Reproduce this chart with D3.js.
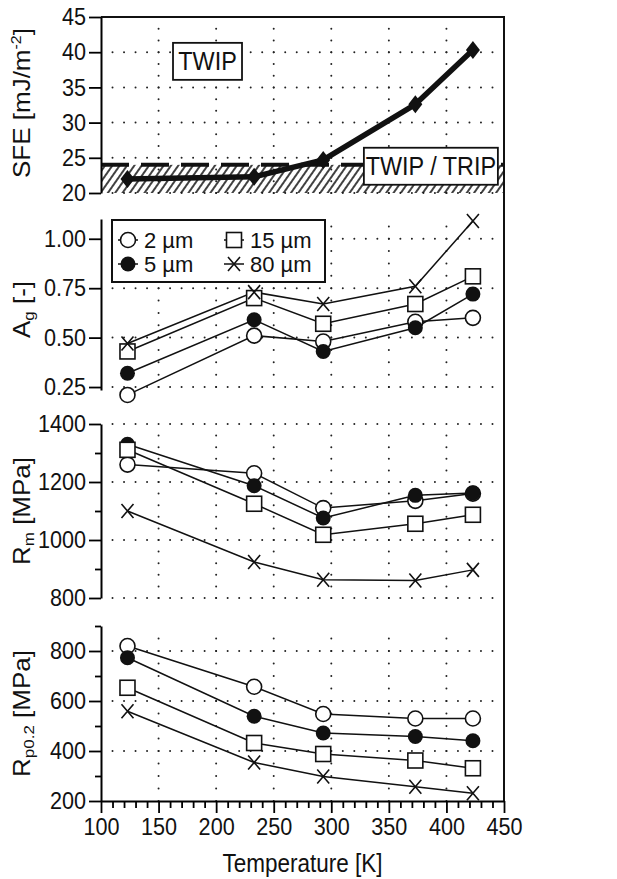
<!DOCTYPE html>
<html>
<head>
<meta charset="utf-8">
<script src="https://cdn.jsdelivr.net/npm/d3@7"></script>
<style>
  body { margin: 0; background: #fff; }
  text { font-family: "Liberation Sans", Arial, Helvetica, sans-serif; fill: #111; }
</style>
</head>
<body>
<svg id="chart" width="617" height="879"></svg>
<script>
// temperatures [K] and measured values per grain size
var temps = [123, 233, 293, 373, 423];
var sfe = [22.0, 22.3, 24.7, 32.6, 40.3];
var sizes = ["2 µm", "5 µm", "15 µm", "80 µm"];

var ag2 = [0.21, 0.51, 0.48, 0.58, 0.60];
var ag5 = [0.32, 0.59, 0.43, 0.55, 0.72];
var ag15 = [0.43, 0.70, 0.57, 0.67, 0.81];
var ag80 = [0.47, 0.73, 0.67, 0.76, 1.09];

var rm2 = [1260, 1230, 1110, 1135, 1160];
var rm5 = [1330, 1187, 1076, 1154, 1162];
var rm15 = [1311, 1125, 1018, 1056, 1087];
var rm80 = [1100, 924, 863, 860, 897];

var rp2 = [820, 657, 548, 530, 530];
var rp5 = [773, 539, 472, 458, 441];
var rp15 = [653, 432, 388, 362, 331];
var rp80 = [559, 354, 298, 257, 231];

var xTicks = [100, 150, 200, 250, 300, 350, 400, 450];
var xGrid = [150, 200, 250, 300, 350, 400];
var sfeTicks = [20, 25, 30, 35, 40, 45];
var agTicks = [0.25, 0.50, 0.75, 1.00];
var rmTicks = [800, 1000, 1200, 1400];
var rmMinor = [900, 1100, 1300];
var rpTicks = [200, 400, 600, 800];
var rpMinor = [300, 500, 700, 900];

var twipLimit = 24;
var notes = ["TWIP", "TWIP / TRIP"];
var noteT = [192.5, 386.5];
var noteSfe = [38.7, 23.8];

var svg = d3.select("#chart");
var SQ = 0.9;   // text in the picture is a bit narrow

var x = d3.scaleLinear().domain([100, 450]).range([101, 504]);
var ySfe = d3.scaleLinear().domain([20, 45]).range([193, 17]);
var yAg = d3.scaleLinear().domain([0.235, 1.1]).range([390, 219]);
var yRm = d3.scaleLinear().domain([800, 1400]).range([598, 424]);
var yRp = d3.scaleLinear().domain([200, 900]).range([801, 626]);

var defs = svg.append("defs");
defs.append("pattern")
  .attr("id", "hatch")
  .attr("patternUnits", "userSpaceOnUse")
  .attr("width", 6).attr("height", 10)
  .attr("patternTransform", "rotate(35)")
  .append("line")
  .attr("x1", 1).attr("y1", 0).attr("x2", 1).attr("y2", 10)
  .attr("stroke", "#111").attr("stroke-width", 1.6);

function squeeze(sel) {
  sel.each(function() {
    var t = d3.select(this);
    var xx = +t.attr("x") || 0, yy = +t.attr("y") || 0;
    t.attr("x", 0).attr("y", 0)
      .attr("transform", "translate(" + xx + "," + yy + ") scale(" + SQ + ",1)");
  });
}

// dotted grid
function grid(y, hLines, sub, yBottom, yTop) {
  var g = svg.append("g").attr("stroke", "#222").attr("stroke-width", 2)
    .attr("stroke-linecap", "round");
  var hStep = x(110) - x(100);
  g.selectAll(".h").data(hLines).enter().append("line")
    .attr("x1", x(110)).attr("x2", x(440) + 0.5)
    .attr("y1", function(d) { return y(d); })
    .attr("y2", function(d) { return y(d); })
    .attr("stroke-dasharray", "0 " + hStep);
  var vStep = (y(hLines[0]) - y(hLines[1])) / sub;
  var vb = y(hLines[0]);
  while (vb + vStep <= yBottom + 0.5) vb += vStep;
  g.selectAll(".v").data(xGrid).enter().append("line")
    .attr("x1", function(d) { return x(d); })
    .attr("x2", function(d) { return x(d); })
    .attr("y1", vb).attr("y2", yTop + 4)
    .attr("stroke-dasharray", "0 " + vStep);
}

grid(ySfe, [20, 25, 30, 35, 40], 3, 193, 17);
grid(yAg, agTicks, 4, 390, 219);
grid(yRm, rmTicks, 5, 598, 424);
grid(yRp, [400, 600, 800], 4, 801, 626);

// TWIP / TRIP band
svg.append("rect")
  .attr("x", x(100)).attr("width", x(450) - x(100))
  .attr("y", ySfe(twipLimit)).attr("height", ySfe(20) - ySfe(twipLimit))
  .attr("fill", "url(#hatch)");
svg.append("line")
  .attr("x1", x(100)).attr("x2", x(450))
  .attr("y1", ySfe(twipLimit)).attr("y2", ySfe(twipLimit))
  .attr("stroke", "#111").attr("stroke-width", 4)
  .attr("stroke-dasharray", "28 12");

// frame lines
svg.append("line").attr("x1", x(100)).attr("x2", x(450) + 1)
  .attr("y1", ySfe(45)).attr("y2", ySfe(45))
  .attr("stroke", "#111").attr("stroke-width", 2);
svg.append("line").attr("x1", x(450)).attr("x2", x(450))
  .attr("y1", ySfe(45)).attr("y2", yRp(200))
  .attr("stroke", "#111").attr("stroke-width", 2);

// left axes
function leftAxis(y, ticks, fmt, minor) {
  var g = svg.append("g").attr("transform", "translate(" + x(100) + ",0)")
    .call(d3.axisLeft(y).tickValues(ticks).tickFormat(fmt)
      .tickSize(12).tickSizeOuter(0).tickPadding(3));
  g.select(".domain").attr("stroke-width", 2);
  g.selectAll(".tick line").attr("stroke-width", 1.8);
  g.selectAll("text").attr("font-size", 24)
    .attr("font-family", "Liberation Sans, Arial, sans-serif")
    .attr("fill", "#111").call(squeeze);
  if (minor) {
    svg.append("g").attr("transform", "translate(" + x(100) + ",0)")
      .call(d3.axisLeft(y).tickValues(minor).tickFormat("").tickSize(6).tickSizeOuter(0))
      .call(function(m) { m.select(".domain").remove(); m.selectAll("line").attr("stroke-width", 1.8); });
  }
}
leftAxis(ySfe, sfeTicks, d3.format("d"));
leftAxis(yAg, agTicks, d3.format(".2f"));
leftAxis(yRm, rmTicks, d3.format("d"), rmMinor);
leftAxis(yRp, rpTicks, d3.format("d"), rpMinor);

// bottom axis
var xa = svg.append("g").attr("transform", "translate(0," + yRp(200) + ")")
  .call(d3.axisBottom(x).tickValues(xTicks).tickSize(12).tickSizeOuter(0).tickPadding(5));
xa.select(".domain").attr("stroke-width", 2);
xa.selectAll(".tick line").attr("stroke-width", 1.8);
xa.selectAll("text").attr("font-size", 24)
  .attr("font-family", "Liberation Sans, Arial, sans-serif")
  .attr("fill", "#111").call(squeeze);
svg.append("g").attr("transform", "translate(0," + yRp(200) + ")")
  .call(d3.axisBottom(x).tickValues(d3.range(110, 450, 10).filter(function(v) { return v % 50; }))
    .tickFormat("").tickSize(7).tickSizeOuter(0))
  .call(function(m) { m.select(".domain").remove(); m.selectAll("line").attr("stroke-width", 1.8); });

// axis titles
function yTitle(cy, parts) {
  var t = svg.append("text")
    .attr("transform", "translate(30," + cy + ") rotate(-90) scale(1," + SQ + ")")
    .attr("text-anchor", "middle").attr("font-size", 26);
  parts.forEach(function(p) {
    var s = t.append("tspan").text(p[0]);
    if (p[1] === "sub") s.attr("dy", 4).attr("font-size", 17);
    if (p[1] === "sup") s.attr("dy", -10).attr("font-size", 16);
    if (p[1] === "back") s.attr("dy", p[2]);
  });
}
yTitle((ySfe(20) + ySfe(45)) / 2 - 2, [["SFE [mJ/m"], ["-2", "sup"], ["]", "back", 10]]);
yTitle((yAg.range()[0] + yAg.range()[1]) / 2 + 5, [["A"], ["g", "sub"], [" [-]", "back", -4]]);
yTitle((yRm(800) + yRm(1400)) / 2, [["R"], ["m", "sub"], [" [MPa]", "back", -4]]);
yTitle((yRp(200) + yRp(900)) / 2, [["R"], ["p0.2", "sub"], [" [MPa]", "back", -4]]);

svg.append("text")
  .attr("x", (x(100) + x(450)) / 2).attr("y", 872)
  .attr("text-anchor", "middle").attr("font-size", 25)
  .text("Temperature [K]").call(squeeze);

// SFE curve
svg.append("path").datum(temps)
  .attr("fill", "none").attr("stroke", "#111").attr("stroke-width", 5.5)
  .attr("stroke-linejoin", "round")
  .attr("d", d3.line().x(function(d) { return x(d); })
    .y(function(d, i) { return ySfe(sfe[i]); }));
svg.selectAll(".dia").data(temps).enter().append("path")
  .attr("transform", function(d, i) { return "translate(" + x(d) + "," + ySfe(sfe[i]) + ")"; })
  .attr("d", "M0,-9L7,0L0,9L-7,0Z").attr("fill", "#111");

// annotation boxes
var noteW = [69, 134];
notes.forEach(function(n, i) {
  var cx = x(noteT[i]), cy = ySfe(noteSfe[i]);
  svg.append("rect").attr("x", cx - noteW[i] / 2).attr("y", cy - 18.5)
    .attr("width", noteW[i]).attr("height", 37)
    .attr("fill", "#fff").attr("stroke", "#111").attr("stroke-width", 1.8);
  svg.append("text").attr("x", cx).attr("y", cy + 9)
    .attr("text-anchor", "middle").attr("font-size", 26).text(n).call(squeeze);
});

// markers
function marker(g, type) {
  if (type === 0) g.append("circle").attr("r", 7.5).attr("fill", "#fff").attr("stroke", "#111").attr("stroke-width", 1.6);
  if (type === 1) g.append("circle").attr("r", 7.5).attr("fill", "#111");
  if (type === 2) g.append("rect").attr("x", -7.5).attr("y", -7.5).attr("width", 15).attr("height", 15)
    .attr("fill", "#fff").attr("stroke", "#111").attr("stroke-width", 1.6);
  if (type === 3) g.append("path").attr("d", "M-6,-7L6,7M-6,7L6,-7")
    .attr("stroke", "#111").attr("stroke-width", 1.6).attr("fill", "none");
}

function drawPanel(y, series) {
  var line = d3.line().x(function(d) { return x(d[0]); }).y(function(d) { return y(d[1]); });
  series.forEach(function(vals) {
    svg.append("path").datum(d3.zip(temps, vals))
      .attr("fill", "none").attr("stroke", "#111").attr("stroke-width", 1.5)
      .attr("d", line);
  });
  series.forEach(function(vals, k) {
    d3.zip(temps, vals).forEach(function(p) {
      marker(svg.append("g").attr("transform", "translate(" + x(p[0]) + "," + y(p[1]) + ")"), k);
    });
  });
}

// legend (inside the Ag panel)
var lg = svg.append("g").attr("transform", "translate(112,220)");
lg.append("rect").attr("width", 213).attr("height", 62)
  .attr("fill", "#fff").attr("stroke", "#111").attr("stroke-width", 2);
sizes.forEach(function(s, k) {
  var cx = (k < 2) ? 16 : 122, cy = (k % 2 === 0) ? 20 : 44;
  lg.append("line").attr("x1", cx - 10).attr("x2", cx + 10).attr("y1", cy).attr("y2", cy)
    .attr("stroke", "#111").attr("stroke-width", 1.5);
  marker(lg.append("g").attr("transform", "translate(" + cx + "," + cy + ")"), k);
  lg.append("text").attr("x", cx + 16).attr("y", cy + 8)
    .attr("font-size", 22).text(s);
});

drawPanel(yAg, [ag2, ag5, ag15, ag80]);
drawPanel(yRm, [rm2, rm5, rm15, rm80]);
drawPanel(yRp, [rp2, rp5, rp15, rp80]);
</script>
</body>
</html>
